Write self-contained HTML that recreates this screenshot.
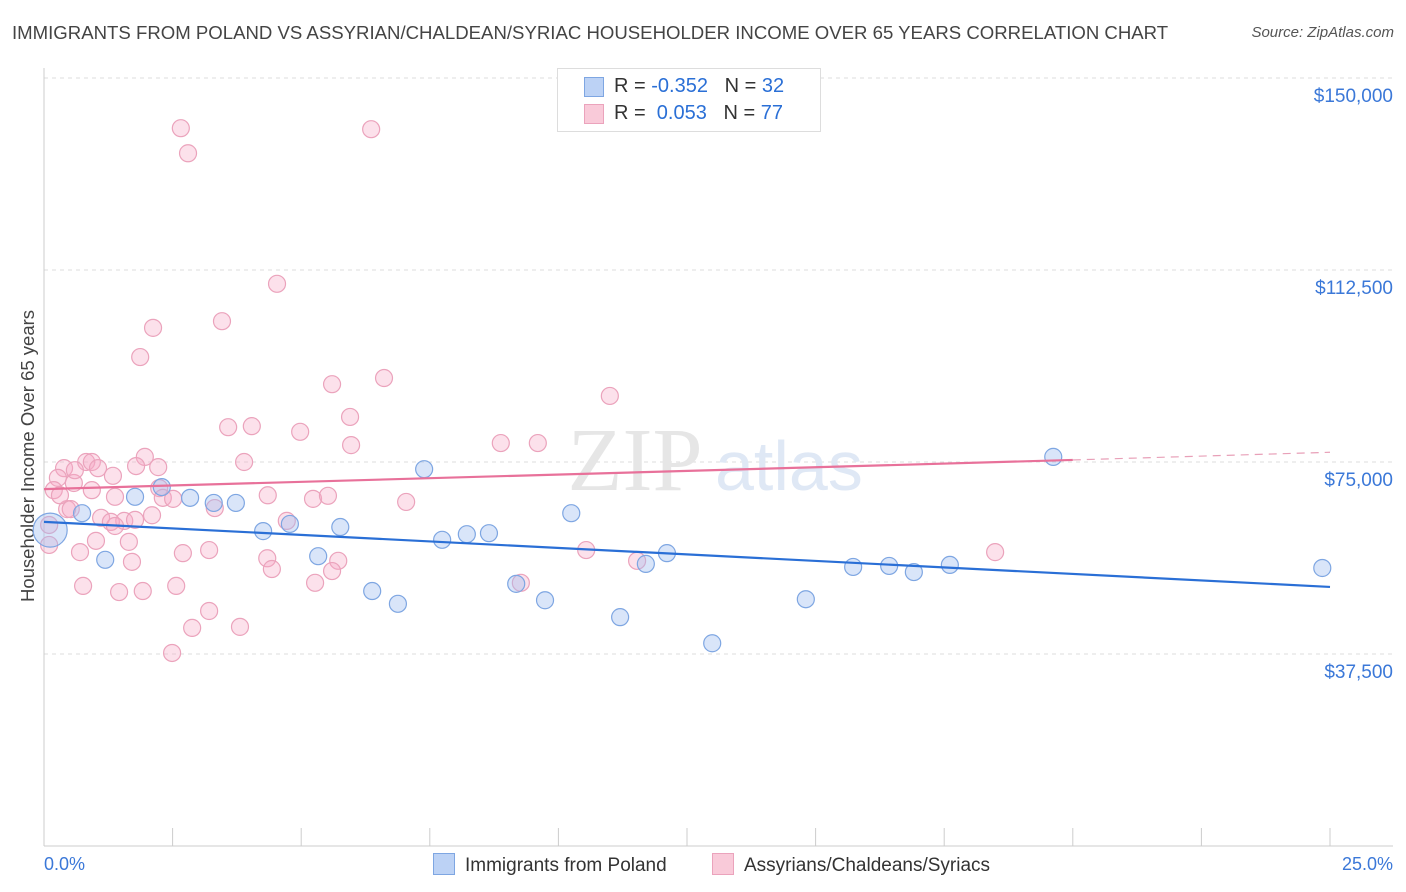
<!DOCTYPE html>
<html><head><meta charset="utf-8"><style>
body{margin:0;background:#fff;font-family:"Liberation Sans",sans-serif;}
#wrap{position:relative;width:1406px;height:892px;overflow:hidden}
.t{position:absolute;white-space:nowrap}
</style></head><body>
<div id="wrap">
<div class="t" style="left:12px;top:22px;font-size:18.6px;color:#444">IMMIGRANTS FROM POLAND VS ASSYRIAN/CHALDEAN/SYRIAC HOUSEHOLDER INCOME OVER 65 YEARS CORRELATION CHART</div>
<div class="t" style="right:12px;top:24px;font-size:15px;color:#555;font-style:italic">Source: ZipAtlas.com</div>
<svg id="svg" width="1406" height="892" style="position:absolute;left:0;top:0"></svg>
</div>
<script>
const yTicks=[37500,75000,112500,150000];
const yTickLabels=["$37,500","$75,000","$112,500","$150,000"];
const xTickLabels=["0.0%","25.0%"];
const polandX=[0.12,0.74,1.19,1.77,2.29,2.84,3.30,3.73,4.26,4.78,5.33,5.76,6.38,6.88,7.39,7.74,8.22,8.65,9.18,9.74,10.25,11.20,11.70,12.11,12.99,14.81,15.73,16.43,16.91,17.61,19.62,24.85];
const polandY=[61700,65000,55900,68200,70100,68000,67000,67000,61500,62900,56600,62300,49800,47300,73600,59800,60900,61100,51200,48000,65000,44700,55100,57200,39600,48200,54500,54700,53500,54900,76000,54300];
const assyX=[2.66,2.80,6.36,4.53,3.46,2.12,1.87,6.61,5.60,11.00,5.95,3.58,4.04,4.98,5.97,8.88,9.60,1.96,3.89,0.82,0.93,0.39,1.79,2.22,1.05,1.34,0.27,0.58,0.19,0.93,2.24,2.31,2.51,1.38,4.35,5.23,5.52,7.04,0.45,0.52,3.32,2.10,1.11,1.56,1.77,1.30,1.38,4.72,0.10,1.01,1.65,0.10,0.70,2.70,3.21,4.34,5.72,10.54,18.49,1.71,4.43,5.60,11.53,5.27,9.27,0.76,1.46,1.92,2.57,3.21,2.88,3.81,2.49,0.60,0.31];
const assyY=[140200,135300,140000,109800,102500,101200,95500,91400,90200,87900,83800,81800,82000,80900,78300,78700,78700,76000,75000,75000,75000,73800,74200,74000,73800,72300,71900,70900,69500,69500,69900,68000,67800,68200,68500,67800,68400,67200,65800,65800,66000,64600,64100,63500,63700,63300,62500,63500,62700,59600,59400,58800,57400,57200,57800,56200,55700,57800,57400,55500,54100,53700,55700,51400,51400,50800,49600,49800,50800,45900,42600,42800,37700,73400,68500];
const polandTrend=[63300,50600];
const assyTrend=[69700,75400,76900];
const NS="http://www.w3.org/2000/svg";
const svg=document.getElementById('svg');
const X=p=>44+p/25*1286;
const Y=v=>846-v/37500*192;
function mk(tag,at,parent){const e=document.createElementNS(NS,tag);for(const k in at)e.setAttribute(k,at[k]);(parent||svg).appendChild(e);return e;}
yTicks.forEach((v,i)=>{
 const g=mk('line',{x1:44,x2:1393,y1:Y(v),y2:Y(v),stroke:'#ddd','stroke-dasharray':'4,4'});
 
 
 const t=mk('text',{x:1393,y:Y(v)+24,'text-anchor':'end','font-size':19,fill:'#3b78d8','font-family':'Liberation Sans'});
 t.textContent=yTickLabels[i];
 
 
});
mk('line',{x1:44,x2:44,y1:68,y2:846,stroke:'#ccc'});
mk('line',{x1:44,x2:1393,y1:846,y2:846,stroke:'#ccc'});
for(let i=1;i<=10;i++){const tk=mk('line',{x1:X(i*2.5),x2:X(i*2.5),y1:828,y2:846,stroke:'#ccc'});
 
 }
const xl0=mk('text',{x:44,y:870,'font-size':18,fill:'#3b78d8','font-family':'Liberation Sans'});xl0.textContent=xTickLabels[0];


const xl1=mk('text',{x:1393,y:870,'text-anchor':'end','font-size':18,fill:'#3b78d8','font-family':'Liberation Sans'});xl1.textContent=xTickLabels[1];


const yt=mk('text',{x:0,y:0,transform:'translate(34,456) rotate(-90)','text-anchor':'middle','font-size':18.5,fill:'#444','font-family':'Liberation Sans'});yt.textContent='Householder Income Over 65 years';


const wm=mk('text',{x:635,y:490,'text-anchor':'middle','font-size':90,fill:'#e6e6e6','font-family':'Liberation Serif'});wm.textContent='ZIP';
const wm2=mk('text',{x:715,y:490,'text-anchor':'start','font-size':70,fill:'#dfe8f5','font-family':'Liberation Sans'});wm2.textContent='atlas';
assyX.forEach((p,i)=>{const c=mk('circle',{cx:X(p),cy:Y(assyY[i]),r:8.5,fill:'rgba(246,170,198,0.35)',stroke:'#eba3bc','stroke-width':1.2});
 
 });
polandX.forEach((p,i)=>{const c=mk('circle',{cx:X(p),cy:Y(polandY[i]),r:i===0?17:8.5,fill:'rgba(160,190,240,0.4)',stroke:'#7ea6e2','stroke-width':1.2});
 
 });
const bl=mk('line',{x1:X(0),y1:Y(polandTrend[0]),x2:X(25),y2:Y(polandTrend[1]),stroke:'#2a6fd6','stroke-width':2.2});


const pl=mk('line',{x1:X(0),y1:Y(assyTrend[0]),x2:X(20),y2:Y(assyTrend[1]),stroke:'#e8719a','stroke-width':2.2});


const pd=mk('line',{x1:X(20),y1:Y(assyTrend[1]),x2:X(25),y2:Y(assyTrend[2]),stroke:'#e8a0b8','stroke-width':1.2,'stroke-dasharray':'8,6'});


</script>
<div class="t" style="left:557px;top:68px;width:262px;height:62px;border:1px solid #ddd;background:#fff;font-size:20px;color:#333">
 <div style="position:absolute;left:26px;top:8px;width:18px;height:18px;background:#bcd2f5;border:1px solid #7ea6e2"></div>
 <div class="t" style="left:56px;top:6px">R = <span style="color:#2a6fd6">-0.352</span>&nbsp;&nbsp;&nbsp;N = <span style="color:#2a6fd6">32</span></div>
 <div style="position:absolute;left:26px;top:35px;width:18px;height:18px;background:#f9cad9;border:1px solid #eba3bc"></div>
 <div class="t" style="left:56px;top:33px">R = &nbsp;<span style="color:#2a6fd6">0.053</span>&nbsp;&nbsp;&nbsp;N = <span style="color:#2a6fd6">77</span></div>
</div>
<div class="t" style="left:433px;top:853px;font-size:19px;color:#333"><span style="display:inline-block;width:20px;height:20px;background:#bcd2f5;border:1px solid #7ea6e2;vertical-align:-4px;margin-right:10px"></span>Immigrants from Poland</div>
<div class="t" style="left:712px;top:853px;font-size:19px;color:#333"><span style="display:inline-block;width:20px;height:20px;background:#f9cad9;border:1px solid #eba3bc;vertical-align:-4px;margin-right:10px"></span>Assyrians/Chaldeans/Syriacs</div>
</body></html>
